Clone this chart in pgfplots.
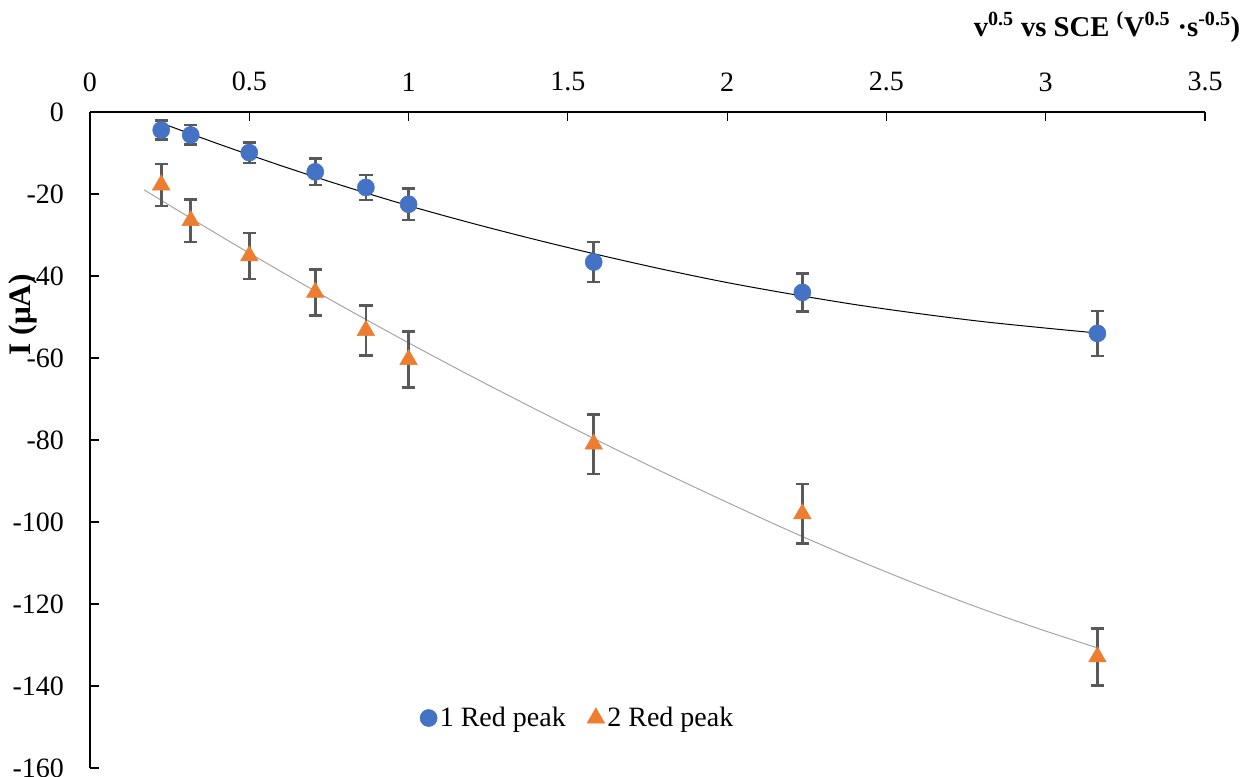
\documentclass[border=0pt]{standalone}
\usepackage{pgfplots}
\pgfplotsset{compat=1.18}
\usepackage{fontspec}
\setmainfont{Liberation Serif}
\definecolor{cblue}{HTML}{4472C4}
\definecolor{corange}{HTML}{ED7D31}
\definecolor{errgray}{HTML}{595959}
\definecolor{trgray}{HTML}{A5A5A5}
\begin{document}
\begin{tikzpicture}
\useasboundingbox (-67.5pt,84pt) rectangle (870pt,-498pt);
\begin{axis}[
  at={(0,0)}, anchor=north west,
  scale only axis, width=836.25pt, height=492pt,
  xmin=0, xmax=3.5, ymin=-160, ymax=0,
  axis x line*=top, axis y line*=left,
  axis line style={line width=1.1pt, -},
  tick align=inside,
  major tick length=7pt,
  tick style={line width=0.8pt, black},
  xtick={0,0.5,1,1.5,2,2.5,3,3.5},
  xticklabels={0,0.5,1,1.5,2,2.5,3,3.5},
  ytick={0,-20,-40,-60,-80,-100,-120,-140,-160},
  yticklabels={0,-20,-40,-60,-80,-100,-120,-140,-160},
  ticklabel style={font=\fontsize{21}{24}\selectfont},
  xticklabel style={yshift=12pt},
  yticklabel style={xshift=-16pt},
  xlabel={\textbf{v\textsuperscript{0.5} vs SCE \textsuperscript{(}V\textsuperscript{0.5} \textperiodcentered s\textsuperscript{-0.5})}},
  xlabel style={at={(axis description cs:1,1)}, anchor=base east, xshift=30pt, yshift=57pt, font=\fontsize{21.5}{24}\selectfont},
  ylabel={\textbf{I (μA)}},
  ylabel style={at={(axis description cs:-0.0605,0.691)}, anchor=center, font=\fontsize{23.5}{26}\selectfont},
  legend columns=2,
  legend style={draw=none, at={(axis description cs:0.4377,0.0762)}, anchor=center,
    font=\fontsize{21}{24}\selectfont,
    /tikz/every even column/.append style={column sep=14pt}},
  legend cell align=left,
  clip=false,
]
% trendlines
\addplot[black, line width=0.75pt, smooth, forget plot] coordinates {
(0.2236,-2.69) (0.4,-7.70) (0.6,-13.10) (0.8,-18.15) (1.0,-22.85) (1.2,-27.15)
(1.4,-31.15) (1.6,-34.90) (1.8,-38.40) (2.0,-41.60) (2.2,-44.40) (2.4,-46.95)
(2.6,-49.15) (2.8,-51.10) (3.0,-52.70) (3.1623,-53.91)};
\addplot[trgray, line width=0.75pt, smooth, forget plot] coordinates {
(0.17,-19.00) (0.4,-29.82) (0.6,-38.93) (0.8,-47.76) (1.0,-56.30) (1.2,-64.56)
(1.4,-72.55) (1.6,-80.35) (1.8,-87.90) (2.0,-95.20) (2.2,-102.30) (2.4,-109.00)
(2.6,-115.30) (2.8,-121.20) (3.0,-126.60) (3.1623,-130.69)};
% data
\addplot[only marks, mark=*, mark size=6.4pt, mark options={fill=cblue, draw=cblue},
  error bars/.cd, y dir=both, y explicit,
  error bar style={line width=2pt, errgray},
  error mark options={rotate=90, mark size=5pt, line width=2pt, errgray}]
  table[x=x, y=y, y error=e] {
x y e
0.2236 -4.4 2.3
0.3162 -5.6 2.4
0.5 -9.9 2.5
0.7071 -14.6 3.2
0.8660 -18.4 3.05
1.0 -22.5 3.85
1.5811 -36.6 4.9
2.2361 -44.0 4.6
3.1623 -54.0 5.5
};
\addlegendentry{1 Red peak}
\addplot[only marks, mark=triangle*, mark size=7.6pt, mark options={fill=corange, draw=corange},
  error bars/.cd, y dir=both, y explicit,
  error bar style={line width=2pt, errgray},
  error mark options={rotate=90, mark size=5pt, line width=2pt, errgray}]
  table[x=x, y=y, y error=e] {
x y e
0.2236 -17.8 5.1
0.3162 -26.5 5.2
0.5 -35.1 5.6
0.7071 -44.0 5.65
0.8660 -53.3 6.1
1.0 -60.4 6.8
1.5811 -81.0 7.3
2.2361 -98.0 7.3
3.1623 -132.9 7.0
};
\addlegendentry{2 Red peak}
\end{axis}
\end{tikzpicture}
\end{document}
